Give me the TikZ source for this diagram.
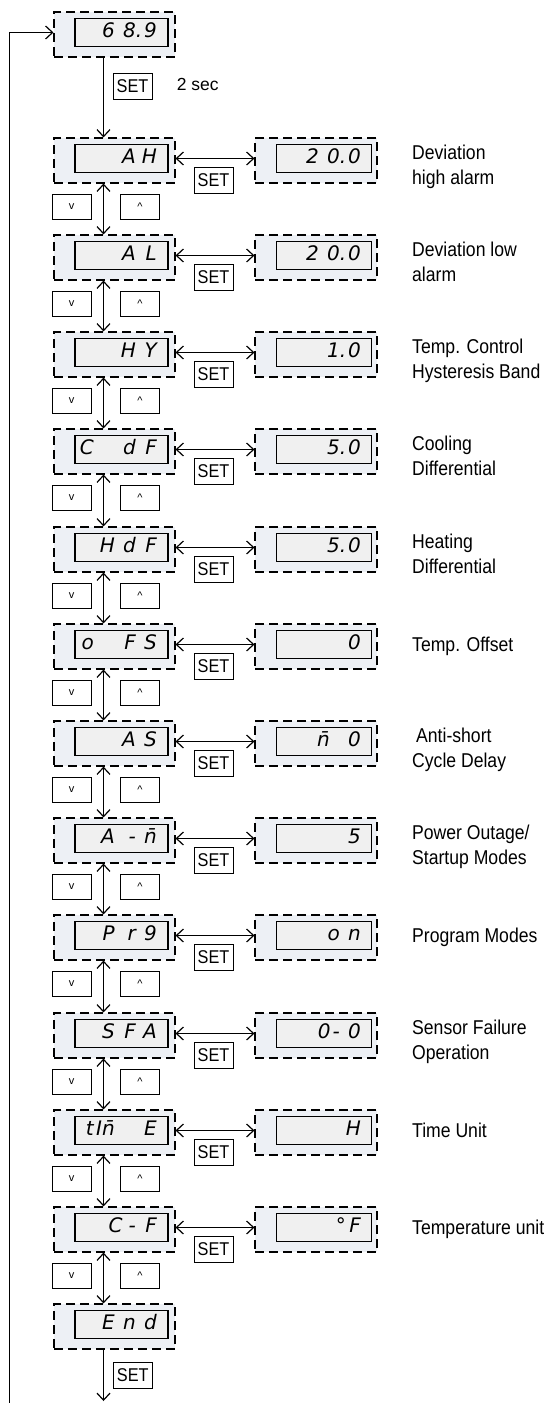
\documentclass[tikz,border=0pt]{standalone}
\usepackage{fontspec}
\setmainfont{Liberation Sans}
\newfontfamily\labf{Liberation Sans}[FakeStretch=0.88]
\newfontfamily\segf{DejaVu Sans}
\usetikzlibrary{arrows.meta}
\definecolor{outerfill}{RGB}{237,240,245}
\definecolor{innerfill}{RGB}{240,240,240}
\newcommand\dg[1]{\makebox[21pt][r]{#1}}
\newcommand\setfnt{\labf\fontsize{18.5}{18.5}\selectfont}
\newcommand\arrfnt{\fontsize{11}{11}\selectfont}
\newcommand\mrow[3]{%
  \pgfmathsetmacro\rowT{round(137.7+97.22*#1)}
  \node[outerbox] (L#1) at (114.5,\rowT+22.5) {};
  \node[innerbox] (D#1) at (121.5,\rowT+20.5) {};
  \node[segtxt] (t#1) at (157,\rowT+25) {#2};
  \node[outerbox, minimum width=122pt] (R#1) at (316,\rowT+22.5) {};
  \node[innerbox, minimum width=95pt] (RD#1) at (324,\rowT+20.5) {};
  \node[segtxt] (rt#1) at (361,\rowT+25) {#3};
  \draw[conn,<->] (L#1.east |- D#1.center) -- (R#1.west |- D#1.center);
  \node[smallbox,font=\setfnt] (s#1) at (213.5,\rowT+42.5) {SET};
  \node[smallbox,font=\arrfnt] (v#1) at (71.5,\rowT+69) {v};
  \node[smallbox,font=\arrfnt] (u#1) at (140,\rowT+69) {\textasciicircum};
}
\newcommand\labtwo[2]{%
  \pgfmathsetmacro\rowT{round(137.7+97.22*#1)}
  \node[lab,anchor=north west] (lab#1) at (412,\rowT+6.6) {#2};
}
\newcommand\labone[2]{%
  \pgfmathsetmacro\rowT{round(137.7+97.22*#1)}
  \node[lab,anchor=base west] (lab#1) at (412,\rowT+27) {#2};
}
\begin{document}
\begin{tikzpicture}[x=1pt,y=-1pt,
  >={Straight Barb[length=7pt,width=13pt]},
  outerbox/.style={draw, line width=1.1pt, dash pattern=on 9pt off 5pt, fill=outerfill,
    minimum width=121pt, minimum height=45pt, inner sep=0pt},
  innerbox/.style={draw, line width=1.4pt, fill=innerfill, minimum width=93pt,
    minimum height=28.5pt, inner sep=0pt},
  smallbox/.style={draw, line width=1pt, fill=white, minimum width=39pt,
    minimum height=25.5pt, inner sep=0pt},
  conn/.style={line width=1.2pt},
  segtxt/.style={font=\segf\itshape\fontsize{20}{20}\selectfont, inner sep=0pt, anchor=base east},
  lab/.style={font=\labf\fontsize{20}{25}\selectfont, align=left, inner sep=0pt}]
\useasboundingbox (0,0) rectangle (546,1403);
\coordinate (axis) at (103.5,0);
\coordinate (loopb) at (9.5,1403);
\coordinate (endb) at (103.5,1401);

% top display
\node[outerbox] (Ltop) at (114.5,34.5) {};
\node[innerbox] (Dtop) at (121.5,32.5) {};
\node[segtxt] (ttop) at (157,37) {\dg{6}\dg{8\rlap{.}}\dg{9}};
\node[smallbox,font=\setfnt] (settop) at (132.5,86.5) {SET};
\node[anchor=west, inner sep=0pt, font=\fontsize{17.5}{17.5}\selectfont] (sec) at (176.7,84.4) {2 sec};

\mrow{0}{\dg{A}\dg{H}}{\dg{2}\dg{0\rlap{.}}\dg{0}}
\mrow{1}{\dg{A}\dg{L}}{\dg{2}\dg{0\rlap{.}}\dg{0}}
\mrow{2}{\dg{H}\dg{Y}}{\dg{1\rlap{.}}\dg{0}}
\mrow{3}{\dg{C}\dg{}\dg{d}\dg{F}}{\dg{5\rlap{.}}\dg{0}}
\mrow{4}{\dg{H}\dg{d}\dg{F}}{\dg{5\rlap{.}}\dg{0}}
\mrow{5}{\dg{o}\dg{}\dg{F}\dg{S}}{\dg{0}}
\mrow{6}{\dg{A}\dg{S}}{\dg{n^^^^0304}\hspace{10pt}\dg{0}}
\mrow{7}{\dg{A}\dg{-}\dg{n^^^^0304}}{\dg{5}}
\mrow{8}{\dg{P}\dg{r}\dg{9}\hspace{8pt}}{\dg{o}\dg{n}}
\mrow{9}{\dg{S}\dg{F}\dg{A}}{\dg{0\hspace{2pt}-}\dg{0}}
\mrow{10}{\dg{t}\dg{In^^^^0304}\dg{}\dg{E}}{\dg{H}}
\mrow{11}{\dg{C\hspace{6pt}-}\dg{F}}{\dg{°\,F}}

% End display
\node[outerbox] (L12) at (114.5,1326.5) {};
\node[innerbox] (D12) at (121.5,1324.5) {};
\node[segtxt] (t12) at (157,1329) {\dg{E}\dg{n}\dg{d}};
\node[smallbox,font=\setfnt] (setbot) at (132.8,1375.5) {SET};

% labels
\labtwo{0}{Deviation\\high alarm}
\labtwo{1}{Deviation low\\alarm}
\labtwo{2}{Temp. Control\\Hysteresis Band}
\labtwo{3}{Cooling\\Differential}
\labtwo{4}{Heating\\Differential}
\labone{5}{Temp. Offset}
\labtwo{6}{\hspace*{4pt}Anti-short\\Cycle Delay}
\labtwo{7}{Power Outage/\\Startup Modes}
\labone{8}{Program Modes}
\labtwo{9}{Sensor Failure\\Operation}
\labone{10}{Time Unit}
\labone{11}{Temperature unit}

% connectors
\draw[conn,->] (loopb) |- (Ltop.west |- Dtop.center);
\draw[conn,->] (Ltop.south -| axis) -- (L0.north -| axis);
\foreach \i [evaluate=\i as \j using int(\i+1)] in {0,...,11}
  {\draw[conn,<->] (L\i.south -| axis) -- (L\j.north -| axis);}
\draw[conn,->] (L12.south -| axis) -- (endb);
\end{tikzpicture}
\end{document}
